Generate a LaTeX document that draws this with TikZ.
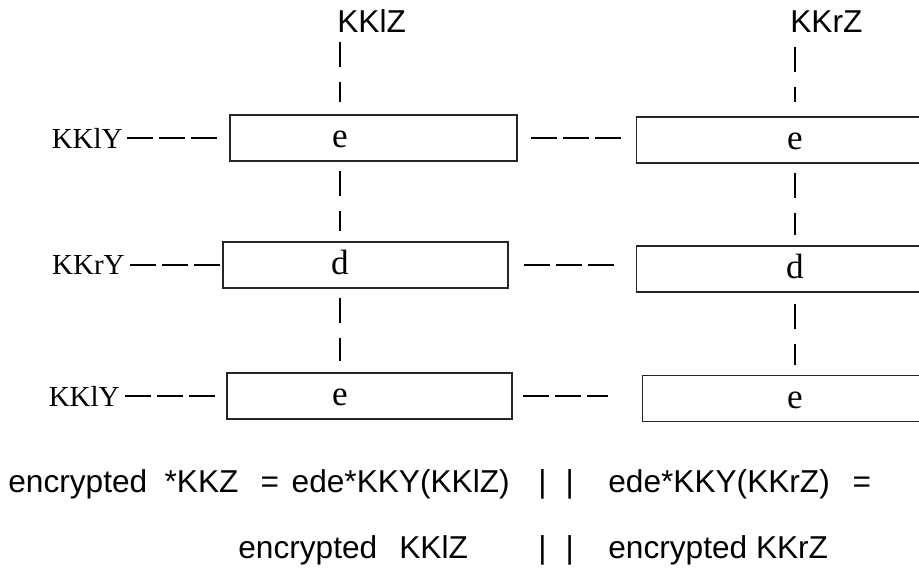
\documentclass[tikz,border=0pt]{standalone}
\usepackage{fontspec}
\setmainfont{Liberation Serif}
\setsansfont{Liberation Sans}
\usetikzlibrary{positioning, calc}

\begin{document}
\begin{tikzpicture}[
  box/.style={draw=black!85, line width=0.6pt, minimum height=0.92cm, inner sep=0pt},
  op/.style={font=\fontsize{20}{24}\selectfont, inner sep=0pt, anchor=base, yshift=-0.19cm},
  klbl/.style={font=\fontsize{16.5}{18}\selectfont, inner sep=0pt, anchor=east},
  zlbl/.style={font=\sffamily\fontsize{18}{20}\selectfont, inner sep=0pt, anchor=base west},
  eqn/.style={font=\sffamily\fontsize{18}{20}\selectfont, inner sep=0pt, anchor=base west},
  hdash/.style={line width=1pt, dash pattern=on 0.52cm off 0.12cm},
  vdash/.style={line width=1pt, dash pattern=on 0.5cm off 0.3cm},
]
\useasboundingbox (0,0) rectangle (18.38,-11.46);
\clip (0,0) rectangle (18.38,-11.46);

% ---- columns ----
\coordinate (colL) at (6.8,0);
\coordinate (colR) at (15.9,0);

% ---- key halves on top ----
\node[zlbl] (zl) at (6.74,-0.64) {KKlZ};
\node[zlbl] (zr) at (15.8,-0.64) {KKrZ};

% ---- boxes, left stack ----
\node[box, minimum width=5.74cm] (b1) at (7.47,-2.76) {};
\node[box, minimum width=5.70cm] (b3) at (7.31,-5.30) {};
\node[box, minimum width=5.70cm] (b5) at (7.39,-7.92) {};

% ---- boxes, right stack (run past the edge) ----
\node[box, minimum width=6.4cm, anchor=west] (b2) at (12.72,-2.80) {};
\node[box, minimum width=6.4cm, anchor=west] (b4) at (12.72,-5.38) {};
\node[box, minimum width=6.4cm, anchor=west] (b6) at (12.84,-7.97) {};

% ---- operations ----
\node[op] (o1) at (colL |- b1) {e};
\node[op] (o3) at (colL |- b3) {d};
\node[op] (o5) at (colL |- b5) {e};
\node[op] (o2) at (colR |- b2) {e};
\node[op] (o4) at (colR |- b4) {d};
\node[op] (o6) at (colR |- b6) {e};

% ---- keys on the left ----
\node[klbl] (y1) at (2.46,-2.76) {KKlY};
\node[klbl] (y2) at (2.50,-5.30) {KKrY};
\node[klbl] (y3) at (2.40,-7.92) {KKlY};

\draw[hdash, shorten <=0.08cm, shorten >=0.2cm] (y1.east) -- (b1.west |- y1);
\draw[hdash, shorten <=0.1cm, shorten >=0.02cm] (y2.east) -- (b3.west |- y2);
\draw[hdash, shorten <=0.1cm, shorten >=0.18cm] (y3.east) -- (b5.west |- y3);

\draw[hdash, shorten <=0.26cm, shorten >=0.28cm] (b1.east) -- (b2.west |- b1);
\draw[hdash, shorten <=0.3cm, shorten >=0.42cm] (b3.east) -- (b4.west |- b3);
\draw[hdash, shorten <=0.2cm, shorten >=0.68cm] (b5.east) -- (b6.west |- b5);

% ---- vertical links ----
\draw[vdash, shorten <=0.2cm, shorten >=0.24cm] (colL |- zl.base) -- (colL |- b1.north);
\draw[vdash, shorten <=0.18cm, shorten >=0.2cm] (colL |- b1.south) -- (colL |- b3.north);
\draw[vdash, shorten <=0.18cm, shorten >=0.22cm] (colL |- b3.south) -- (colL |- b5.north);
\draw[vdash, shorten <=0.3cm, shorten >=0.28cm] (colR |- zr.base) -- (colR |- b2.north);
\draw[vdash, shorten <=0.18cm, shorten >=0.2cm] (colR |- b2.south) -- (colR |- b4.north);
\draw[vdash, shorten <=0.22cm, shorten >=0.2cm] (colR |- b4.south) -- (colR |- b6.north);

% ---- result ----
\node[eqn] (eq1) at (0.16,-9.84) {encrypted\hspace{0.55em}*KKZ\hspace{0.7em}=\hspace{0.4em}ede*KKY(KKlZ)};
\node[eqn] (bar1) at (10.76,-9.84) {|\hspace{0.6em}|};
\node[eqn] (eq2) at (12.16,-9.84) {ede*KKY(KKrZ)\hspace{0.72em}=};
\node[eqn] (eq3) at (4.76,-11.16) {encrypted\hspace{0.7em}KKlZ};
\node[eqn] (bar2) at (10.76,-11.16) {|\hspace{0.6em}|};
\node[eqn] (eq4) at (12.16,-11.16) {encrypted KKrZ};
\end{tikzpicture}
\end{document}
